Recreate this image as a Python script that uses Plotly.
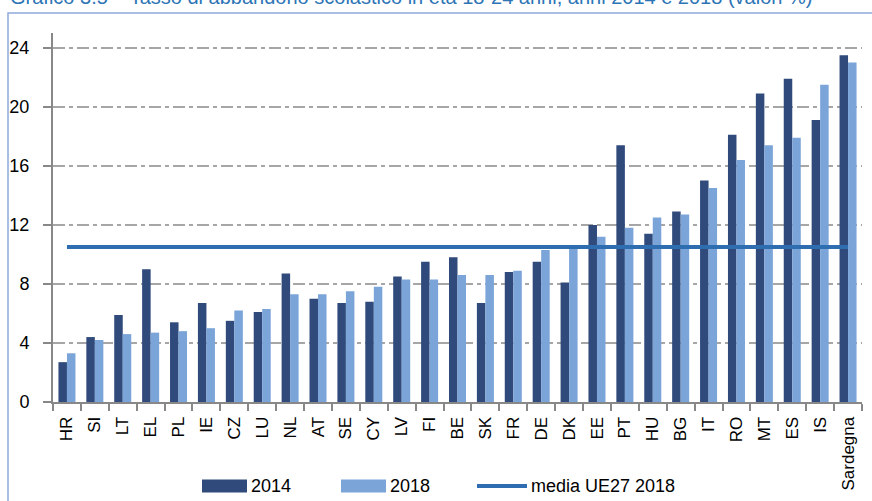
import plotly.graph_objects as go

categories = ["HR", "SI", "LT", "EL", "PL", "IE", "CZ", "LU", "NL", "AT", "SE", "CY", "LV", "FI",
              "BE", "SK", "FR", "DE", "DK", "EE", "PT", "HU", "BG", "IT", "RO", "MT", "ES", "IS", "Sardegna"]
values_2014 = [2.7, 4.4, 5.9, 9.0, 5.4, 6.7, 5.5, 6.1, 8.7, 7.0, 6.7, 6.8, 8.5, 9.5,
               9.8, 6.7, 8.8, 9.5, 8.1, 12.0, 17.4, 11.4, 12.9, 15.0, 18.1, 20.9, 21.9, 19.1, 23.5]
values_2018 = [3.3, 4.2, 4.6, 4.7, 4.8, 5.0, 6.2, 6.3, 7.3, 7.3, 7.5, 7.8, 8.3, 8.3,
               8.6, 8.6, 8.9, 10.3, 10.4, 11.2, 11.8, 12.5, 12.7, 14.5, 16.4, 17.4, 17.9, 21.5, 23.0]
media_ue27_2018 = 10.5
y_ticks = [0, 4, 8, 12, 16, 20, 24]

title_text = "Grafico 3.5 \u2013 Tasso di abbandono scolastico in et\u00e0 18-24 anni, anni 2014 e 2018 (valori %)"

C2014 = "#2F4A7B"
C2018 = "#7BA4D9"
CLINE = "#2E6DB0"
FONT = "Liberation Sans"

W, H = 872, 501
L, R, T, B = 53, 10, 33, 99
PW, PH = W - L - R, H - T - B


def px(x):
    return (x - L) / PW


def py(y):
    return (H - B - y) / PH


fig = go.Figure()
fig.add_trace(go.Bar(x=categories, y=values_2014, name="2014", marker=dict(color=C2014, line=dict(width=0))))
fig.add_trace(go.Bar(x=categories, y=values_2018, name="2018", marker=dict(color=C2018, line=dict(width=0))))
fig.add_trace(go.Scatter(x=categories, y=[media_ue27_2018] * len(categories), mode="lines",
                         name="media UE27 2018", line=dict(color=CLINE, width=4)))

shapes = []
annotations = []

# outer frame
shapes.append(dict(type="rect", xref="paper", yref="paper", x0=px(8), x1=px(875), y0=py(520), y1=py(13),
                   line=dict(color="#8EA9DB", width=1.5), fillcolor="rgba(0,0,0,0)", layer="below"))

# title (cut off at top, as in the source)
annotations.append(dict(text=title_text, xref="paper", yref="paper", x=px(8), y=py(10), xanchor="left",
                        yanchor="bottom", showarrow=False, font=dict(family=FONT, size=20, color="#2E75B6")))

# custom legend
ly = 486
legend_items = [("bar", C2014, 202, 247, "2014"), ("bar", C2018, 341, 386, "2018"),
                ("line", CLINE, 477, 527, "media UE27 2018")]
for kind, col, x0, x1, label in legend_items:
    if kind == "bar":
        shapes.append(dict(type="rect", xref="paper", yref="paper", x0=px(x0), x1=px(x1), y0=py(ly + 6.5),
                           y1=py(ly - 6.5), fillcolor=col, line=dict(width=0)))
    else:
        shapes.append(dict(type="line", xref="paper", yref="paper", x0=px(x0), x1=px(x1), y0=py(ly),
                           y1=py(ly), line=dict(color=col, width=4)))
    annotations.append(dict(text=label, xref="paper", yref="paper", x=px(x1 + 2), y=py(ly), xanchor="left",
                            yanchor="middle", showarrow=False, font=dict(family=FONT, size=18, color="#000000")))

fig.update_layout(
    width=W, height=H,
    margin=dict(l=L, r=R, t=T, b=B, autoexpand=False),
    paper_bgcolor="white", plot_bgcolor="white",
    barmode="group", bargap=0.39, bargroupgap=0,
    showlegend=False,
    font=dict(family=FONT, color="#000000"),
    shapes=shapes, annotations=annotations,
)
fig.update_xaxes(
    type="category", tickson="boundaries", ticks="outside", ticklen=7, tickcolor="#888888", tickwidth=1.5,
    showline=True, linecolor="#888888", linewidth=2, tickangle=-90, ticklabelstandoff=6,
    tickfont=dict(family=FONT, size=17, color="#000000"), showgrid=False,
)
fig.update_yaxes(
    range=[0, 25], tickvals=y_ticks, ticks="outside", ticklen=8, tickcolor="#888888", tickwidth=1.5,
    showline=True, linecolor="#888888", linewidth=2, ticklabelstandoff=10,
    showgrid=True, gridcolor="#A6A6A6", gridwidth=1.5, griddash="12px,4px,4px,4px",
    zeroline=False, tickfont=dict(family=FONT, size=18, color="#000000"),
)

fig.write_html("out.html", config={"displayModeBar": False},
               post_script="document.body.style.margin='0px';document.body.style.overflow='hidden';")
